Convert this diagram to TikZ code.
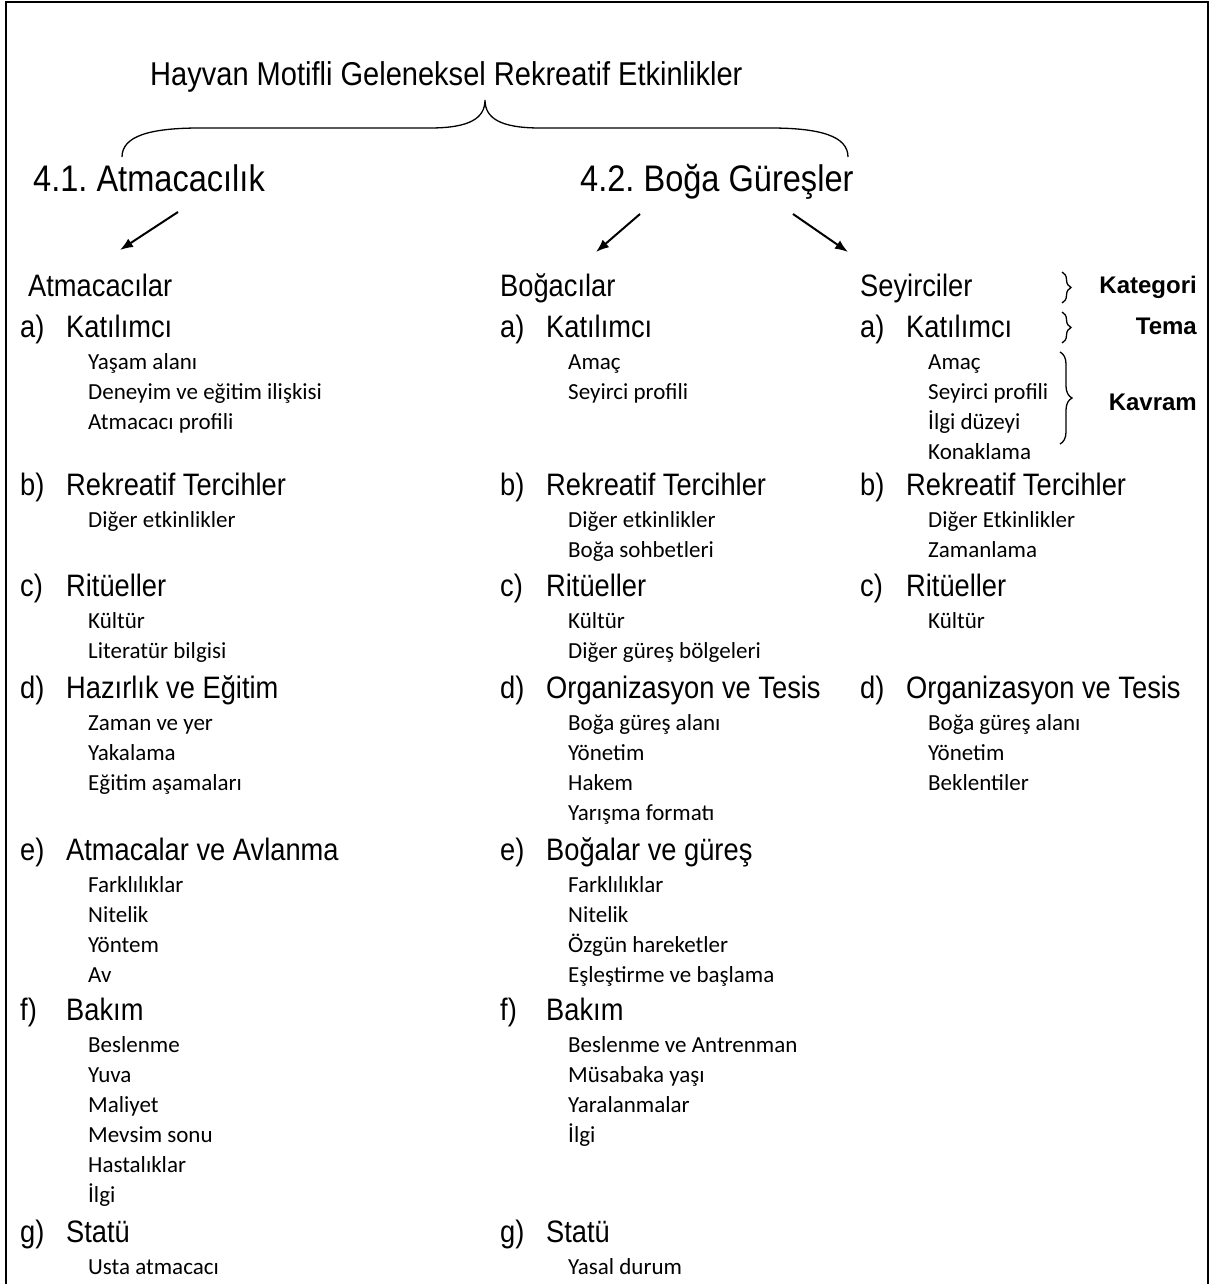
\documentclass[tikz,border=0pt]{standalone}
\usepackage{fontspec}
\setmainfont{Liberation Sans}
\newfontfamily\narrowfont{Liberation Sans}[FakeStretch=0.88]
\newfontfamily\kavramfont{Carlito}
\usetikzlibrary{arrows.meta,decorations.pathreplacing}
\frenchspacing

\tikzset{
  baslik/.style={anchor=base west, inner sep=0, font=\narrowfont\fontsize{33}{36}\selectfont},
  altbaslik/.style={anchor=base west, inner sep=0, font=\narrowfont\fontsize{37}{40}\selectfont},
  kategori/.style={anchor=base west, inner sep=0, font=\narrowfont\fontsize{31}{34}\selectfont},
  harf/.style={anchor=base west, inner sep=0, font=\narrowfont\fontsize{31}{34}\selectfont},
  tema/.style={anchor=base west, inner sep=0, font=\narrowfont\fontsize{31}{34}\selectfont},
  kavram/.style={anchor=base west, inner sep=0, font=\kavramfont\fontsize{23}{26}\selectfont},
  etiket/.style={anchor=base east, inner sep=0, font=\bfseries\fontsize{24}{28}\selectfont},
  ok/.style={-{Latex[length=13pt,width=10pt]}, line width=2pt},
  parantez/.style={decorate, decoration={brace, amplitude=#1}, line width=1.3pt},
}

% column, x, baseline y, letter, title, items
\newcommand{\temablock}[6]{%
  \node[harf] (#1#4) at (#2,#3) {#4)};
  \node[tema] (#1#4t) at (#2+46,#3) {#5};
  \foreach \k [count=\i] in {#6}
    \node[kavram] (#1#4\i) at (#2+68,#3+2+30*\i) {\k};
}

\begin{document}
\begin{tikzpicture}[x=1pt, y=-1pt]
  \useasboundingbox (0,0) rectangle (1216,1284);
  \draw[line width=2.5pt] (6,1290) -- (6,2) -- (1208,2) -- (1208,1290);

  \node[baslik] (baslik) at (150,86) {Hayvan Motifli Geleneksel Rekreatif Etkinlikler};
  \draw[line width=1.3pt] (122,157) .. controls (122,136) and (150,128) .. (200,128)
    -- (430,128) .. controls (470,128) and (485,118) .. (485,100)
    .. controls (485,118) and (500,128) .. (540,128)
    -- (770,128) .. controls (820,128) and (848,136) .. (848,157);

  \node[altbaslik] (atmacilik) at (33,192) {4.1. Atmacacılık};
  \node[altbaslik] (bogagures) at (580,192) {4.2. Boğa Güreşler};

  \coordinate (ok1a) at (178,212); \coordinate (ok1b) at (120,250);
  \coordinate (ok2a) at (640,214); \coordinate (ok2b) at (596,252);
  \coordinate (ok3a) at (793,214); \coordinate (ok3b) at (848,252);
  \draw[ok] (ok1a) -- (ok1b);
  \draw[ok] (ok2a) -- (ok2b);
  \draw[ok] (ok3a) -- (ok3b);

  \node[kategori] (atmacacilar) at (28,296) {Atmacacılar};
  \node[kategori] (bogacilar) at (500,296) {Boğacılar};
  \node[kategori] (seyirciler) at (860,296) {Seyirciler};

  % Atmacacılar
  \temablock{atm}{20}{337}{a}{Katılımcı}{Yaşam alanı, Deneyim ve eğitim ilişkisi, Atmacacı profili}
  \temablock{atm}{20}{495}{b}{Rekreatif Tercihler}{Diğer etkinlikler}
  \temablock{atm}{20}{596}{c}{Ritüeller}{Kültür, Literatür bilgisi}
  \temablock{atm}{20}{698}{d}{Hazırlık ve Eğitim}{Zaman ve yer, Yakalama, Eğitim aşamaları}
  \temablock{atm}{20}{860}{e}{Atmacalar ve Avlanma}{Farklılıklar, Nitelik, Yöntem, Av}
  \temablock{atm}{20}{1020}{f}{Bakım}{Beslenme, Yuva, Maliyet, Mevsim sonu, Hastalıklar, İlgi}
  \temablock{atm}{20}{1242}{g}{Statü}{Usta atmacacı}

  % Boğacılar
  \temablock{bog}{500}{337}{a}{Katılımcı}{Amaç, Seyirci profili}
  \temablock{bog}{500}{495}{b}{Rekreatif Tercihler}{Diğer etkinlikler, Boğa sohbetleri}
  \temablock{bog}{500}{596}{c}{Ritüeller}{Kültür, Diğer güreş bölgeleri}
  \temablock{bog}{500}{698}{d}{Organizasyon ve Tesis}{Boğa güreş alanı, Yönetim, Hakem, Yarışma formatı}
  \temablock{bog}{500}{860}{e}{Boğalar ve güreş}{Farklılıklar, Nitelik, Özgün hareketler, Eşleştirme ve başlama}
  \temablock{bog}{500}{1020}{f}{Bakım}{Beslenme ve Antrenman, Müsabaka yaşı, Yaralanmalar, İlgi}
  \temablock{bog}{500}{1242}{g}{Statü}{Yasal durum}

  % Seyirciler
  \temablock{sey}{860}{337}{a}{Katılımcı}{Amaç, Seyirci profili, İlgi düzeyi, Konaklama}
  \temablock{sey}{860}{495}{b}{Rekreatif Tercihler}{Diğer Etkinlikler, Zamanlama}
  \temablock{sey}{860}{596}{c}{Ritüeller}{Kültür}
  \temablock{sey}{860}{698}{d}{Organizasyon ve Tesis}{Boğa güreş alanı, Yönetim, Beklentiler}

  \draw[parantez=9pt] (1062,272) -- (1062,303);
  \draw[parantez=9pt] (1062,312) -- (1062,343);
  \draw[parantez=12pt] (1060,352) -- (1060,444);
  \node[etiket] (kategori) at (1197,293) {Kategori};
  \node[etiket] (tema) at (1197,334) {Tema};
  \node[etiket] (kavram) at (1197,410) {Kavram};
\end{tikzpicture}
\end{document}
